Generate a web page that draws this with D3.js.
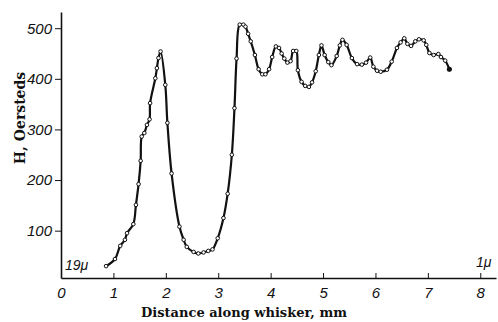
<!DOCTYPE html>
<html>
<head>
<meta charset="utf-8">
<script src="https://cdn.jsdelivr.net/npm/d3@7"></script>
<style>
  body { margin: 0; background: #fff; }
  .tick text { font-family: "Liberation Sans", Arial, sans-serif; font-style: italic; font-size: 15px; fill: #111; }
  .axis path, .axis line { stroke: #111; }
</style>
</head>
<body>
<script>
// readings off the plate: distance along whisker (mm) and field H (Oersteds)
var distance = [0.86, 1.03, 1.13, 1.22, 1.26, 1.38, 1.43, 1.48, 1.52, 1.54, 1.59, 1.64, 1.69, 1.70, 1.80, 1.83, 1.86, 1.90,
  1.99, 2.03, 2.11, 2.26, 2.34, 2.40, 2.53, 2.62, 2.72, 2.81, 2.89, 2.99, 3.10, 3.18, 3.26, 3.31, 3.35, 3.41, 3.48,
  3.52, 3.57, 3.62, 3.70, 3.77, 3.84, 3.90, 3.97, 4.03, 4.10, 4.16, 4.21, 4.26, 4.32, 4.38, 4.43, 4.49, 4.52, 4.59,
  4.66, 4.73, 4.79, 4.86, 4.92, 4.97, 5.03, 5.10, 5.16, 5.26, 5.32, 5.37, 5.45, 5.55, 5.65, 5.74, 5.82, 5.90, 5.96,
  6.03, 6.10, 6.22, 6.31, 6.41, 6.48, 6.55, 6.61, 6.68, 6.76, 6.83, 6.92, 6.97, 7.03, 7.11, 7.20, 7.25, 7.33, 7.41];
var field = [30, 44, 70, 82, 95, 113, 151, 192, 238, 286, 293, 309, 320, 352, 401, 421, 441, 454,
  388, 313, 213, 108, 82, 68, 58, 55, 57, 60, 63, 85, 125, 173, 250, 342, 440, 507, 507,
  503, 489, 474, 447, 419, 409, 409, 419, 443, 464, 461, 450, 440, 432, 435, 455, 455, 417, 394,
  386, 384, 393, 415, 447, 466, 447, 433, 427, 445, 466, 477, 467, 441, 429, 428, 432, 442, 424,
  416, 414, 418, 434, 461, 472, 480, 469, 465, 474, 478, 476, 467, 451, 447, 449, 443, 436, 419];

var xTicks = [0, 1, 2, 3, 4, 5, 6, 7, 8];
var yTicks = [100, 200, 300, 400, 500];

var svgWidth = 498;
var svgHeight = 322;

var svg = d3.select("body").append("svg")
  .attr("width", svgWidth)
  .attr("height", svgHeight);

var xScale = d3.scaleLinear().domain([0, 8.3]).range([61, 496]);
var yScale = d3.scaleLinear().domain([6.5, 532]).range([278, 12]);

var bottomAxis = d3.axisBottom(xScale)
  .tickValues(xTicks)
  .tickSize(-5)
  .tickSizeOuter(0)
  .tickPadding(9)
  .tickFormat(d3.format("d"));

var leftAxis = d3.axisLeft(yScale)
  .tickValues(yTicks)
  .tickSize(6)
  .tickSizeOuter(0)
  .tickPadding(3)
  .tickFormat(d3.format("d"));

svg.append("g")
  .attr("class", "axis")
  .attr("transform", "translate(0, 278)")
  .call(bottomAxis)
  .call(g => g.select(".domain").attr("stroke-width", 1.6));

svg.append("g")
  .attr("class", "axis")
  .attr("transform", "translate(61, 0)")
  .call(leftAxis)
  .call(g => g.select(".domain").attr("stroke-width", 1.6));

var points = distance.map((d, i) => ({x: d, y: field[i]}));

var line = d3.line()
  .x(d => xScale(d.x))
  .y(d => yScale(d.y))
  .curve(d3.curveCatmullRom);

svg.append("path")
  .datum(points)
  .attr("fill", "none")
  .attr("stroke", "#111")
  .attr("stroke-width", 2.2)
  .attr("d", line);

svg.selectAll("circle.pt")
  .data(points)
  .enter()
  .append("circle")
  .attr("class", "pt")
  .attr("cx", d => xScale(d.x))
  .attr("cy", d => yScale(d.y))
  .attr("r", 1.8)
  .attr("fill", "#fff")
  .attr("stroke", "#111")
  .attr("stroke-width", 1);

// end dot
svg.append("circle")
  .attr("cx", xScale(distance[distance.length - 1]))
  .attr("cy", yScale(field[field.length - 1]))
  .attr("r", 2.5)
  .attr("fill", "#111");

// axis titles
svg.append("text")
  .attr("x", 244)
  .attr("y", 317)
  .attr("text-anchor", "middle")
  .style("font-family", "'DejaVu Serif', serif")
  .style("font-weight", "bold")
  .style("font-size", "13px")
  .attr("fill", "#111")
  .text("Distance along whisker, mm");

svg.append("text")
  .attr("transform", "translate(25, 118) rotate(-90)")
  .attr("text-anchor", "middle")
  .style("font-family", "'DejaVu Serif', serif")
  .style("font-weight", "bold")
  .style("font-size", "14px")
  .attr("fill", "#111")
  .text("H, Oersteds");

// diameter notes at each end
svg.append("text")
  .attr("x", 65)
  .attr("y", 270)
  .style("font-family", "'Liberation Sans', sans-serif")
  .style("font-style", "italic")
  .style("font-size", "14px")
  .attr("fill", "#111")
  .text("19μ");

svg.append("text")
  .attr("x", 476)
  .attr("y", 267)
  .style("font-family", "'Liberation Sans', sans-serif")
  .style("font-style", "italic")
  .style("font-size", "14px")
  .attr("fill", "#111")
  .text("1μ");
</script>
</body>
</html>
